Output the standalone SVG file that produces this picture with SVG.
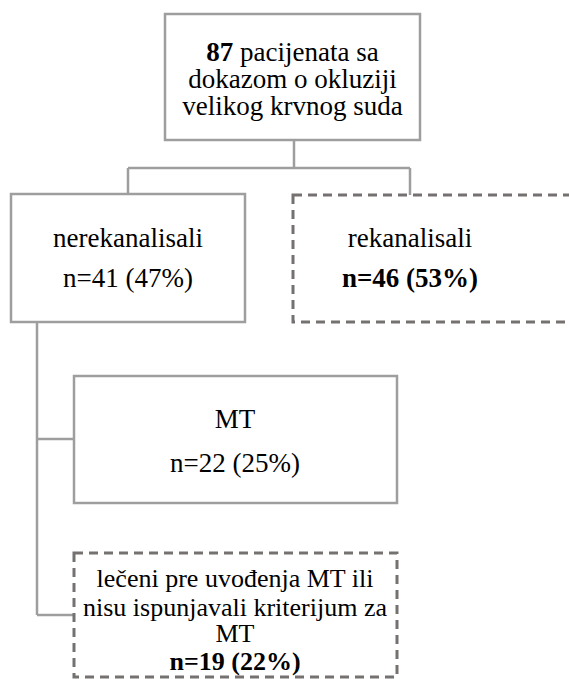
<svg xmlns="http://www.w3.org/2000/svg" width="569" height="679" viewBox="0 0 569 679">
<style>
.solid{fill:#fff;stroke:#9e9e9e;stroke-width:2.5}
.dash{fill:#fff;stroke:#767171;stroke-width:3;stroke-dasharray:9 6}
.conn{fill:none;stroke:#9e9e9e;stroke-width:2.5}
.t{fill:#000;text-anchor:middle;font-family:'Liberation Serif',serif;font-size:27px}
.b{font-weight:bold}
</style>
<rect x="0" y="0" width="569" height="679" fill="#fff"/>
<g id="connectors">
<path class="conn" d="M294 140 V168 M128 168 H410 M128 168 V194 M410 168 V195"/>
<path class="conn" d="M37 322 V615 M37 439 H74 M37 615 H74"/>
</g>
<g id="n87">
<rect class="solid" x="165" y="14" width="255" height="126"/>
<text class="t" x="292.5" y="61"><tspan class="b">87</tspan> pacijenata sa</text>
<text class="t" x="292.5" y="88">dokazom o okluziji</text>
<text class="t" x="292.5" y="115">velikog krvnog suda</text>
</g>
<g id="nerekanalisali">
<rect class="solid" x="11" y="194" width="234" height="128"/>
<text class="t" x="128" y="247">nerekanalisali</text>
<text class="t" x="128" y="287">n=41 (47%)</text>
</g>
<g id="rekanalisali">
<rect class="dash" x="293" y="195" width="290" height="127"/>
<text class="t" x="410" y="247">rekanalisali</text>
<text class="t b" x="410" y="287">n=46 (53%)</text>
</g>
<g id="mt">
<rect class="solid" x="74" y="376" width="323" height="127"/>
<text class="t" x="235" y="428">MT</text>
<text class="t" x="235" y="472">n=22 (25%)</text>
</g>
<g id="leceni">
<rect class="dash" x="74" y="553" width="323" height="124"/>
<text class="t" x="235" y="587" style="font-size:26px">le&#269;eni pre uvo&#273;enja MT ili</text>
<text class="t" x="235" y="616" style="font-size:26px">nisu ispunjavali kriterijum za</text>
<text class="t" x="235" y="642" style="font-size:26px">MT</text>
<text class="t b" x="235" y="670" style="font-size:26px">n=19 (22%)</text>
</g>
</svg>
